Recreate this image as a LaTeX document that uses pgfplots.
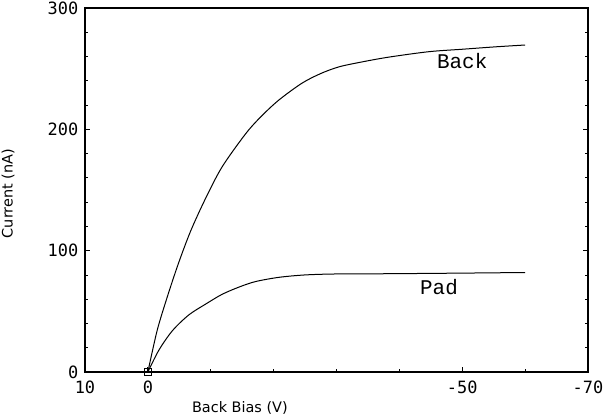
\documentclass[border=0pt]{standalone}
\usepackage{fontspec}
\setmainfont{DejaVu Sans}
\newfontfamily\tickfont{DejaVu Sans Mono}
\newfontfamily\curvefont{Liberation Mono}
\usepackage{pgfplots}
\pgfplotsset{compat=1.18}
\begin{document}
\begin{tikzpicture}
\begin{axis}[
    scale only axis,
    width=503bp, height=364bp,
    x dir=reverse,
    xmin=-70, xmax=10,
    ymin=0, ymax=300,
    xtick={10,0,-50,-70},
    minor xtick={-10,-20,-30,-40,-60},
    ytick={0,100,200,300},
    minor ytick={20,40,60,80,120,140,160,180,220,240,260,280},
    xtick pos=bottom,
    ytick pos=both,
    tick align=inside,
    major tick length=5bp,
    minor tick length=3bp,
    every tick/.style={black, line width=0.8bp},
    axis line style={black, line width=1.3bp},
    /pgf/number format/assume math mode=true,
    ticklabel style={font=\tickfont\fontsize{17}{19}\selectfont, inner sep=1bp},
    xticklabel style={yshift=-8bp},
    yticklabel style={xshift=-5.5bp},
    xlabel={Back Bias (V)},
    ylabel={Current (nA)},
    label style={font=\fontsize{14.5}{16}\selectfont},
    xlabel style={at={(rel axis cs:0.308,0)}, anchor=center, yshift=-36bp},
    ylabel style={at={(rel axis cs:0,0.49)}, anchor=center, yshift=77bp},
]
\coordinate (sw) at (rel axis cs:0,0);
\coordinate (ne) at (rel axis cs:1,1);
% Back
\addplot[black, line width=1bp, smooth, tension=0.5] coordinates {
    (0,0) (-1.48,34.3) (-3.07,61.6) (-4.82,88.9) (-6.79,116) (-9.17,143)
    (-11.8,169) (-15.5,196) (-17.9,210) (-20.8,224) (-24.5,238)
    (-27.5,246) (-30.4,251.5) (-34,255.5) (-38.3,259.5) (-44.7,264)
    (-50,266) (-55.3,268) (-60,269.5)
};
% Pad
\addplot[black, line width=1bp, smooth, tension=0.5] coordinates {
    (0,0) (-1.75,18) (-3.9,34) (-6.5,47) (-9.2,56) (-11.8,64)
    (-14.5,70) (-17.1,74.5) (-20.8,78) (-25,80) (-30,80.8) (-38.3,81)
    (-50,81.5) (-60,82)
};
% marker at origin
\addplot[black, only marks, mark=square, mark size=3.5bp, line width=1bp] coordinates {(0,0)};
\node[font=\curvefont\fontsize{21}{23}\selectfont] at (axis cs:-50,256) {Back};
\node[font=\curvefont\fontsize{21}{23}\selectfont] at (axis cs:-46.3,70) {Pad};
\end{axis}
\pgfresetboundingbox
\path ([shift={(-85bp,-43bp)}]sw) rectangle ([shift={(16bp,8bp)}]ne);
\end{tikzpicture}
\end{document}
